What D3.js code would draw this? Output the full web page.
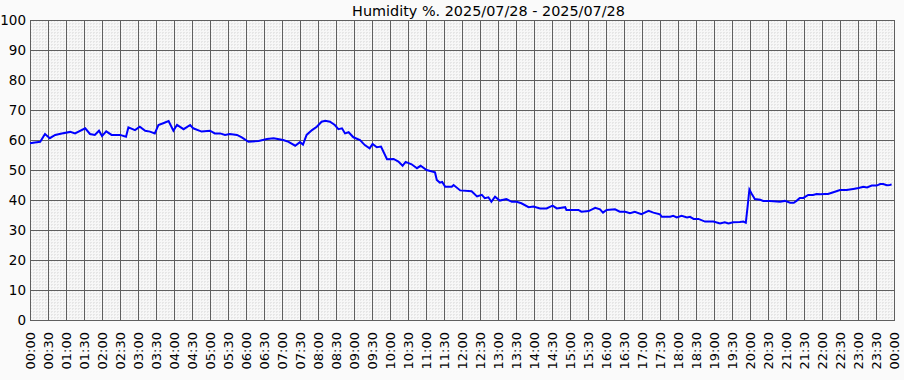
<!DOCTYPE html>
<html>
<head>
<meta charset="utf-8">
<script src="https://cdn.jsdelivr.net/npm/d3@7"></script>
<style>
  html, body { margin: 0; padding: 0; background: #fafafa; }
  svg { display: block; }
  text { font-family: "DejaVu Sans", sans-serif; fill: #000; }
</style>
</head>
<body>
<svg id="chart" width="904" height="380"></svg>
<script>
const title = "Humidity %. 2025/07/28 - 2025/07/28";
const dayStart = "2025-07-28T00:00:00";
const dayEnd = "2025-07-29T00:00:00";
const yTicks = [0, 10, 20, 30, 40, 50, 60, 70, 80, 90, 100];

// minutes after midnight
const minutes = [
  0, 8, 17, 25, 33, 42, 53, 67, 75, 92, 100, 108, 115, 120, 127, 136, 150, 160, 164, 175,
  183, 192, 200, 208, 214, 222, 231, 239, 245, 256, 267, 272, 286, 300, 308, 317, 325, 333, 345, 353,
  364, 381, 395, 406, 422, 431, 442, 450, 455, 461, 470, 478, 486, 492, 500, 508, 514, 520, 525, 531,
  539, 550, 558, 566, 571, 578, 585, 595, 606, 614, 621, 626, 636, 645, 651, 661, 675, 678, 683, 687,
  692, 703, 706, 717, 736, 745, 753, 758, 764, 769, 775, 783, 794, 803, 811, 819, 831, 839, 850, 861,
  871, 878, 892, 894, 906, 914, 919, 931, 942, 950, 955, 961, 975, 983, 992, 1000, 1008, 1019, 1031, 1039,
  1050, 1053, 1067, 1072, 1078, 1086, 1095, 1100, 1106, 1114, 1125, 1139, 1150, 1158, 1164, 1172, 1183, 1189, 1193, 1196,
  1199, 1203, 1208, 1217, 1222, 1233, 1250, 1258, 1267, 1273, 1278, 1283, 1289, 1297, 1305, 1311, 1317, 1325, 1330, 1339,
  1350, 1361, 1372, 1381, 1389, 1395, 1403, 1411, 1417, 1422, 1428, 1433, 1436
];
const humidity = [
  58.9, 59.2, 59.4, 62.0, 60.6, 61.7, 62.2, 62.7, 62.2, 63.9, 62.0, 61.7, 63.1, 61.3, 62.9, 61.7, 61.7, 61.1, 64.2, 63.3,
  64.4, 63.1, 62.8, 62.2, 65.0, 65.6, 66.3, 63.1, 65.0, 63.6, 65.0, 63.9, 62.8, 63.1, 62.2, 62.2, 61.7, 62.0, 61.7, 60.9,
  59.4, 59.7, 60.3, 60.6, 60.0, 59.4, 58.1, 59.3, 58.5, 61.7, 63.3, 64.4, 66.1, 66.4, 66.1, 65.0, 63.6, 63.9, 62.2, 62.6,
  60.9, 60.0, 58.3, 57.2, 58.7, 57.6, 57.8, 53.6, 53.7, 52.8, 51.4, 52.7, 51.9, 50.6, 51.4, 50.0, 49.2, 46.7, 45.8, 46.0,
  44.4, 44.4, 45.0, 43.2, 42.9, 41.2, 41.7, 40.6, 40.9, 39.4, 41.1, 39.8, 40.3, 39.4, 39.4, 38.9, 37.6, 37.8, 37.2, 37.2,
  38.1, 37.2, 37.6, 36.7, 36.7, 36.7, 36.1, 36.3, 37.4, 36.9, 35.8, 36.7, 36.9, 36.1, 36.1, 35.6, 36.1, 35.3, 36.4, 35.8,
  35.2, 34.4, 34.4, 34.7, 34.2, 34.7, 34.2, 34.4, 33.7, 33.7, 32.8, 32.8, 32.2, 32.6, 32.2, 32.6, 32.7, 32.8, 32.4, 37.8,
  43.5, 42.0, 40.3, 40.1, 39.7, 39.7, 39.4, 39.7, 39.1, 39.1, 39.8, 40.7, 40.7, 41.7, 41.7, 42.0, 41.9, 42.0, 42.0, 42.6,
  43.3, 43.3, 43.7, 44.0, 44.4, 44.2, 44.8, 44.8, 45.3, 45.3, 44.9, 45.0, 45.2
];

const svg = d3.select("#chart");
const pLeft = 30, pRight = 894, pTop = 20, pBottom = 320;
const t0 = new Date(dayStart), t1 = new Date(dayEnd);
const x = d3.scaleTime().domain([t0, t1]).range([pLeft, pRight]);
const y = d3.scaleLinear().domain([0, 100]).range([pBottom, pTop]);
const toDate = m => new Date(t0.getTime() + m * 60000);

// plot background
svg.append("rect").attr("x", pLeft).attr("y", pTop).attr("width", pRight - pLeft).attr("height", pBottom - pTop).attr("fill", "#f7f7f7");

// minor grid
const minorX = d3.timeMinute.every(5).range(t0, t1);
svg.append("g").selectAll("line").data(minorX).join("line")
  .attr("x1", d => Math.round(x(d)) + 0.5).attr("x2", d => Math.round(x(d)) + 0.5)
  .attr("y1", pTop).attr("y2", pBottom)
  .attr("stroke", "#e6e6e6").attr("stroke-width", 1).attr("stroke-dasharray", "2,1");
const minorY = d3.range(0, 101, 1);
svg.append("g").selectAll("line").data(minorY).join("line")
  .attr("x1", pLeft).attr("x2", pRight)
  .attr("y1", d => Math.round(y(d)) + 0.5).attr("y2", d => Math.round(y(d)) + 0.5)
  .attr("stroke", "#e6e6e6").attr("stroke-width", 1).attr("stroke-dasharray", "2,1");

// major grid
const majorX = d3.timeMinute.every(30).range(t0, d3.timeMinute.offset(t1, 1));
svg.append("g").selectAll("line").data(majorX).join("line")
  .attr("x1", d => Math.round(x(d)) + 0.5).attr("x2", d => Math.round(x(d)) + 0.5)
  .attr("y1", pTop).attr("y2", pBottom + 0.5)
  .attr("stroke", "#5f5f5f").attr("stroke-width", 1);
svg.append("g").selectAll("line").data(yTicks).join("line")
  .attr("x1", pLeft).attr("x2", pRight + 1)
  .attr("y1", d => Math.round(y(d)) + 0.5).attr("y2", d => Math.round(y(d)) + 0.5)
  .attr("stroke", "#5f5f5f").attr("stroke-width", 1);

// y labels
svg.append("g").selectAll("text").data(yTicks).join("text")
  .attr("x", 26).attr("y", d => y(d))
  .attr("dy", "0.36em")
  .attr("text-anchor", "end")
  .attr("font-size", 13.5)
  .text(d => d);

// x labels
const fmt = d3.timeFormat("%H:%M");
svg.append("g").selectAll("text").data(majorX).join("text")
  .attr("transform", d => `translate(${x(d) + 5},332) rotate(-90)`)
  .attr("text-anchor", "end")
  .attr("font-size", 13)
  .text(d => fmt(d));

// title
svg.append("text").attr("x", 488.5).attr("y", 15.7)
  .attr("text-anchor", "middle").attr("font-size", 14.4)
  .text(title);

// line
const pts = minutes.map((m, i) => ({ t: toDate(m), v: humidity[i] }));
svg.append("path").datum(pts)
  .attr("fill", "none").attr("stroke", "#0000ff").attr("stroke-width", 2)
  .attr("stroke-linejoin", "miter")
  .attr("d", d3.line().x(d => x(d.t)).y(d => y(d.v)));
</script>
</body>
</html>
